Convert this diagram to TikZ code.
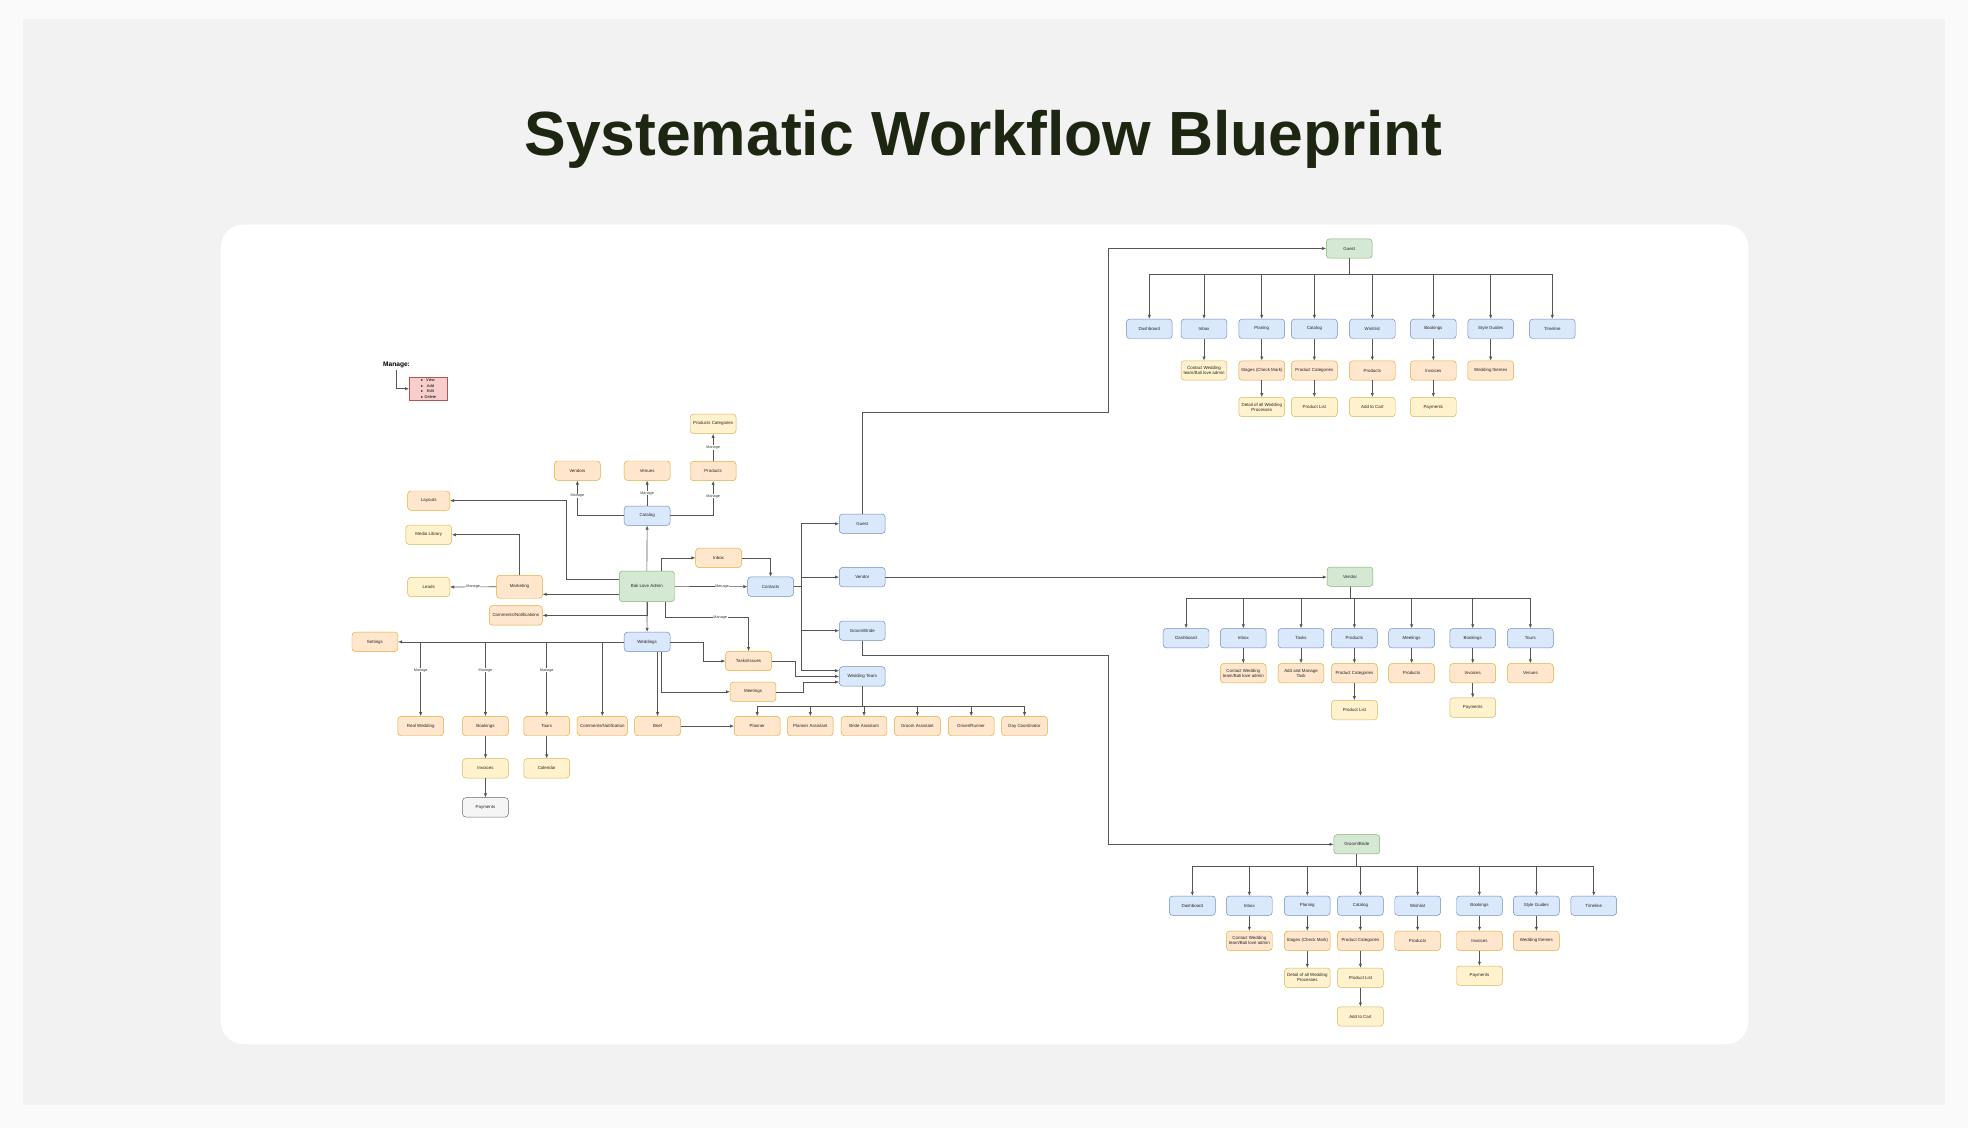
\documentclass[tikz,border=0pt]{standalone}
\usepackage{fontspec}
\setmainfont{Liberation Sans}
\usetikzlibrary{arrows.meta,calc,positioning}

\definecolor{bluefill}{HTML}{DAE8FC}
\definecolor{blueline}{HTML}{6C8EBF}
\definecolor{greenfill}{HTML}{D5E8D4}
\definecolor{greenline}{HTML}{82B366}
\definecolor{peachfill}{HTML}{FFE6CC}
\definecolor{peachline}{HTML}{D79B00}
\definecolor{yellowfill}{HTML}{FFF2CC}
\definecolor{yellowline}{HTML}{D6B656}
\definecolor{redfill}{HTML}{F8CECC}
\definecolor{redline}{HTML}{B85450}
\definecolor{greyfill}{HTML}{F5F5F5}
\definecolor{greyline}{HTML}{666666}
\definecolor{linegrey}{HTML}{555555}
\definecolor{titlegreen}{HTML}{1C2611}
\definecolor{pageout}{HTML}{FAFAFA}
\definecolor{pagegrey}{HTML}{F2F2F2}

\tikzset{
  box/.style={draw, rounded corners=2.5mm, line width=1.1pt, minimum width=36.5mm, minimum height=15.4mm,
    inner sep=0.5mm, align=center, font=\fontsize{10}{11.5}\selectfont, text=black!85},
  bluebox/.style={box, fill=bluefill, draw=blueline},
  greenbox/.style={box, fill=greenfill, draw=greenline},
  peachbox/.style={box, fill=peachfill, draw=peachline!80},
  yellowbox/.style={box, fill=yellowfill, draw=yellowline},
  greybox/.style={box, fill=greyfill, draw=greyline},
  wire/.style={draw=linegrey, line width=1.4pt},
  flow/.style={wire, -{Latex[length=3.2mm,width=2.6mm]}},
  managelbl/.style={fill=white, inner sep=0.4mm, font=\fontsize{8.5}{9}\selectfont, text=black!80},
}

\begin{document}
\begin{tikzpicture}[x=1mm, y=-1mm]
        % Page, card and title
        \useasboundingbox (0,0) rectangle (1568,899);
        \fill[pageout] (0,0) rectangle (1568,899);
        \fill[pagegrey] (18,15) rectangle (1550,880);
        \fill[white, rounded corners=18mm] (176,179) rectangle (1393,832);
        \node[anchor=base, text=titlegreen, font=\bfseries\fontsize{141.5}{160}\selectfont] (title) at (783.5,124) {Systematic Workflow Blueprint};

        % Legend
        \node[anchor=west, font=\bfseries\fontsize{15}{17}\selectfont] (mng) at (304,291) {Manage:};
        \node[draw=redline, fill=redfill, line width=1.1pt, minimum width=30.6mm, minimum height=18.1mm, inner sep=0.3mm,
          font=\fontsize{9}{12.5}\selectfont] (legend) at (341.4,309.7)
          {\begin{tabular}{@{}c@{\hspace{1.5mm}}c@{}}$\bullet$&View\\$\bullet$&Add\\$\bullet$&Edit\\$\bullet$&Delete\end{tabular}};
        \draw[flow] (mng.south) |- (legend.west);

        % Admin and its modules
        \node[greenbox, minimum width=44mm, minimum height=24.4mm] (admin) at (515.4,467.2) {Bali Love Admin};
        \node[bluebox] (catalog) at (515.6,410.9) {Catalog};
        \node[peachbox] (vendors) at (460,375) {Vendors};
        \node[peachbox] (venues) at (515.6,375) {Venues};
        \node[peachbox] (cprod) at (568.2,375.3) {Products};
        \node[yellowbox] (cprodcat) at (568.2,337.7) {Products Categories};
        \node[peachbox, minimum width=33.5mm] (layouts) at (341.6,398.9) {Layouts};
        \node[yellowbox] (media) at (341.6,426.1) {Media Library};
        \node[peachbox, minimum height=18.3mm] (marketing) at (413.9,467.5) {Marketing};
        \node[yellowbox, minimum width=33.5mm] (leads) at (341.6,467.7) {Leads};
        \node[peachbox] (inbox) at (572.5,444.5) {Inbox};
        \node[bluebox] (contacts) at (614,467.4) {Contacts};
        \node[peachbox, minimum width=42.2mm] (comments) at (411,490.3) {Comments/Notifications};
        \node[bluebox] (weddings) at (515.6,511.4) {Weddings};
        \node[peachbox] (settings) at (298.7,511.4) {Settings};
        \node[peachbox] (tasks) at (596.4,526.7) {Tasks/Issues};
        \node[peachbox] (meetings) at (600,551.2) {Meetings};

        % Weddings row
        \foreach \id/\x/\txt in {realwed/335.2/Real Wedding, wbook/386.8/Bookings, wtours/435.6/Tours, brief/523.9/Brief}
          \node[peachbox] (\id) at (\x,578.5) {\txt};
        \node[peachbox, minimum width=40mm] (wcomm) at (479.9,578.5) {Comments/Notification};
        \node[yellowbox, below=17.9mm of wbook] (winv) {Invoices};
        \node[yellowbox, below=17.9mm of wtours] (wcal) {Calendar};
        \node[greybox, below=15.3mm of winv] (wpay) {Payments};

        % Admin connectors
        \draw[flow] (catalog.west) -| (vendors.south) node[managelbl, pos=0.78] {Manage};
        \draw[flow] (catalog.north) -- (venues.south) node[managelbl, midway] {Manage};
        \draw[flow] (catalog.east) -| (cprod.south) node[managelbl, pos=0.78] {Manage};
        \draw[flow] (cprod.north) -- (cprodcat.south) node[managelbl, midway] {Manage};
        \draw[flow] (admin.north) -- (catalog.south);
        \draw[flow] ([yshift=5.6mm]admin.west) -- ++(-42.4,0) |- (layouts.east);
        \draw[flow] ([yshift=-6.3mm]admin.west) -- ([yshift=-6mm]marketing.east);
        \draw[flow] (marketing.north) |- (media.east);
        \draw[flow] (marketing.west) -- (leads.east) node[managelbl, midway] {Manage};
        \draw[flow] ([xshift=11.3mm]admin.north) |- (inbox.west);
        \draw[flow] (inbox.east) -| (contacts.north);
        \draw[flow] (admin.east) -- (contacts.west) node[managelbl, pos=0.65] {Manage};
        \draw[flow] (admin.south) |- (comments.east);
        \draw[flow] (admin.south) -- (weddings.north);
        \draw[flow] ([xshift=14.7mm]admin.south) -- ++(0,12.4) -| (tasks.north) node[managelbl, pos=0.33] {Manage};

        % Weddings connectors
        \draw[flow] (weddings.west) -- (settings.east);
        \foreach \id in {realwed, wbook, wtours}
          \draw[flow] (weddings.west) -| (\id.north) node[managelbl, pos=0.69] {Manage};
        \draw[flow] (weddings.west) -| (wcomm.north);
        \draw[flow] (wbook.south) -- (winv.north);
        \draw[flow] (winv.south) -- (wpay.north);
        \draw[flow] (wtours.south) -- (wcal.north);
        \draw[flow] (brief.north |- weddings.south) -- (brief.north);
        \draw[flow] ([xshift=11.4mm]weddings.south) |- (meetings.west);
        \draw[flow] (weddings.east) -- ++(26.1,0) |- (tasks.west);

        % User roles
        \node[bluebox] (guestrole) at (687,417.3) {Guest};
        \node[bluebox] (vendorrole) at (687,459.8) {Vendor};
        \node[bluebox] (couplerole) at (687,502.5) {Groom/Bride};
        \node[bluebox] (team) at (687,538.9) {Wedding Team};
        \foreach \role in {guestrole, vendorrole, couplerole}
          \draw[flow] (contacts.east) -- ++(6.2,0) |- (\role.west);
        \draw[flow] (contacts.east) -- ++(6.2,0) |- ([yshift=4.5mm]team.west);
        \draw[flow] (tasks.east) -- ++(18.9,0) |- (team.west);
        \draw[flow] (meetings.east) -- ++(21.5,0) |- ([yshift=-4.5mm]team.west);

        % Wedding team members
        \foreach \id/\x/\txt in {planner/603.3/Planner, plannerasst/645.6/Planner Assistant, brideasst/688.4/Bride Assistant,
            groomasst/730.9/Groom Assistant, driver/773.8/{Driver/Runner}, daycoord/816.3/Day Coordinator} {
            \node[peachbox] (\id) at (\x,578.5) {\txt};
            \draw[flow] (team.south) -- ++(0,15.7) -| (\id.north);
          }
        \draw[flow] (brief.east) -- (planner.west);

        % Guest tree
        \node[greenbox] (guest) at (1075,198) {Guest};
        \foreach \id/\x/\txt in {Dash/915.7/Dashboard, Inbox/959.3/Inbox, Plan/1005.3/Planing, Cat/1047.2/Catalog,
            Wish/1093.4/Wishlist, Book/1142/Bookings, Style/1187.7/Style Guides, Time/1236.8/Timeline} {
            \node[bluebox] (g\id) at (\x,262) {\txt};
            \draw[flow] (guest.south) -- ++(0,12.3) -| (g\id.north);
          }
        \node[yellowbox, below=17.4mm of gInbox] (gContact) {Contact Wedding\\team/Bali love admin};
        \node[peachbox, below=17.4mm of gPlan] (gStages) {Stages (Check Mark)};
        \node[peachbox, below=17.4mm of gCat] (gProdCat) {Product Categories};
        \node[peachbox, below=17.4mm of gWish] (gProducts) {Products};
        \node[peachbox, below=17.4mm of gBook] (gInvoices) {Invoices};
        \node[peachbox, below=17.4mm of gStyle] (gThemes) {Wedding themes};
        \node[yellowbox, below=13.3mm of gStages] (gDetail) {Detail of all Wedding\\Processes};
        \node[yellowbox, below=13.3mm of gProdCat] (gProdList) {Product List};
        \node[yellowbox, below=13.3mm of gProducts] (gCart) {Add to Cart};
        \node[yellowbox, below=13.3mm of gInvoices] (gPayments) {Payments};
        \foreach \a/\b in {gInbox/gContact, gPlan/gStages, gCat/gProdCat, gWish/gProducts, gBook/gInvoices, gStyle/gThemes,
            gStages/gDetail, gProdCat/gProdList, gProducts/gCart, gInvoices/gPayments}
          \draw[flow] (\a.south) -- (\b.north);
        \draw[flow] (guestrole.north) -- ++(0,-80.6) -- ++(196,0) |- (guest.west);

        % Vendor tree
        \node[greenbox] (vendor) at (1075.6,459.5) {Vendor};
        \foreach \id/\x/\txt in {Dash/945/Dashboard, Inbox/990.6/Inbox, Tasks/1036.6/Tasks, Prod/1079.1/Products,
            Meet/1124.7/Meetings, Book/1173.4/Bookings, Tours/1219.3/Tours} {
            \node[bluebox] (v\id) at (\x,508.5) {\txt};
            \draw[flow] (vendor.south) -- ++(0,9.5) -| (v\id.north);
          }
        \node[peachbox, below=12.1mm of vInbox] (vContact) {Contact Wedding\\team/Bali love admin};
        \node[peachbox, below=12.1mm of vTasks] (vTask) {Add and Manage\\Task};
        \node[peachbox, below=12.1mm of vProd] (vProdCat) {Product Categories};
        \node[peachbox, below=12.1mm of vMeet] (vProducts) {Products};
        \node[peachbox, below=12.1mm of vBook] (vInvoices) {Invoices};
        \node[peachbox, below=12.1mm of vTours] (vVenues) {Venues};
        \node[yellowbox, below=13.6mm of vProdCat] (vProdList) {Product List};
        \node[yellowbox, below=11.6mm of vInvoices] (vPayments) {Payments};
        \foreach \a/\b in {vInbox/vContact, vTasks/vTask, vProd/vProdCat, vMeet/vProducts, vBook/vInvoices, vTours/vVenues,
            vProdCat/vProdList, vInvoices/vPayments}
          \draw[flow] (\a.south) -- (\b.north);
        \draw[flow] (vendorrole.east) -- (vendorrole.east -| vendor.west);

        % Groom/Bride tree
        \node[greenbox] (couple) at (1081,672.7) {Groom/Bride};
        \foreach \id/\x/\txt in {Dash/950/Dashboard, Inbox/995.4/Inbox, Plan/1041.6/Planing, Cat/1083.9/Catalog,
            Wish/1129.5/Wishlist, Book/1178.7/Bookings, Style/1224.1/Style Guides, Time/1269.8/Timeline} {
            \node[bluebox] (b\id) at (\x,721.6) {\txt};
            \draw[flow] (couple.south) -- ++(0,9.6) -| (b\id.north);
          }
        \node[peachbox, below=12.2mm of bInbox] (bContact) {Contact Wedding\\team/Bali love admin};
        \node[peachbox, below=12.2mm of bPlan] (bStages) {Stages (Check Mark)};
        \node[peachbox, below=12.2mm of bCat] (bProdCat) {Product Categories};
        \node[peachbox, below=12.2mm of bWish] (bProducts) {Products};
        \node[peachbox, below=12.2mm of bBook] (bInvoices) {Invoices};
        \node[peachbox, below=12.2mm of bStyle] (bThemes) {Wedding themes};
        \node[yellowbox, below=13.6mm of bStages] (bDetail) {Detail of all Wedding\\Processes};
        \node[yellowbox, below=13.6mm of bProdCat] (bProdList) {Product List};
        \node[yellowbox, below=12mm of bInvoices] (bPayments) {Payments};
        \node[yellowbox, below=15.1mm of bProdList] (bCart) {Add to Cart};
        \foreach \a/\b in {bInbox/bContact, bPlan/bStages, bCat/bProdCat, bWish/bProducts, bBook/bInvoices, bStyle/bThemes,
            bStages/bDetail, bProdCat/bProdList, bInvoices/bPayments, bProdList/bCart}
          \draw[flow] (\a.south) -- (\b.north);
        \draw[flow] (couplerole.south) -- ++(0,11.7) -- ++(196,0) |- (couple.west);
      \end{tikzpicture}
\end{document}
